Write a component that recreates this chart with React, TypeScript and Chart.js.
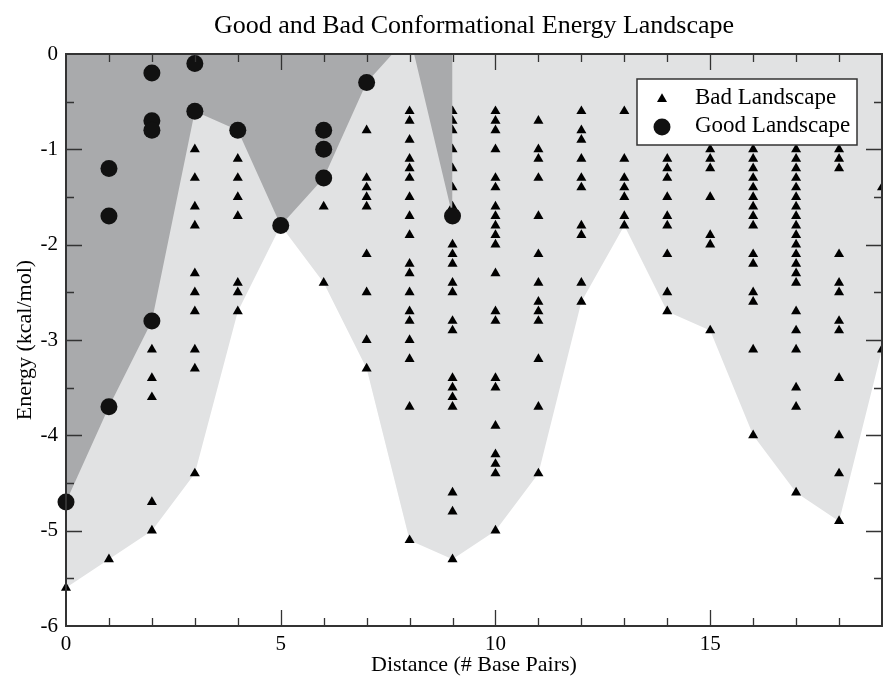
import React, { useEffect, useRef } from "react";
import { Chart, registerables } from "chart.js";

Chart.register(...registerables);

// ---- data ----
const distances = [0, 1, 2, 3, 4, 5, 6, 7, 8, 9, 10, 11, 12, 13, 14, 15, 16, 17, 18, 19];
const goodDistances = [0, 1, 2, 3, 4, 5, 6, 7, 8, 9];

// energies (kcal/mol) of the bad landscape, one list per distance
const badEnergies: number[][] = [
  [-4.7, -5.6],
  [-5.3],
  [-3.1, -3.4, -3.6, -4.7, -5.0],
  [-1.0, -1.3, -1.6, -1.8, -2.3, -2.5, -2.7, -3.1, -3.3, -4.4],
  [-1.1, -1.3, -1.5, -1.7, -2.4, -2.5, -2.7],
  [-1.8],
  [-1.6, -2.4],
  [-0.8, -1.3, -1.4, -1.5, -1.6, -2.1, -2.5, -3.0, -3.3],
  [-0.6, -0.7, -0.9, -1.1, -1.2, -1.3, -1.5, -1.7, -1.9, -2.2, -2.3, -2.5, -2.7, -2.8, -3.0, -3.2, -3.7, -5.1],
  [-0.6, -0.7, -0.8, -1.0, -1.2, -1.4, -1.6, -2.0, -2.1, -2.2, -2.4, -2.5, -2.8, -2.9, -3.4, -3.5, -3.6, -3.7, -4.6, -4.8, -5.3],
  [-0.6, -0.7, -0.8, -1.0, -1.3, -1.4, -1.6, -1.7, -1.8, -1.9, -2.0, -2.3, -2.7, -2.8, -3.4, -3.5, -3.9, -4.2, -4.3, -4.4, -5.0],
  [-0.7, -1.0, -1.1, -1.3, -1.7, -2.1, -2.4, -2.6, -2.7, -2.8, -3.2, -3.7, -4.4],
  [-0.6, -0.8, -0.9, -1.1, -1.3, -1.4, -1.8, -1.9, -2.4, -2.6],
  [-0.6, -1.1, -1.3, -1.4, -1.5, -1.7, -1.8],
  [-1.1, -1.2, -1.3, -1.5, -1.7, -1.8, -2.1, -2.5, -2.7],
  [-1.0, -1.1, -1.2, -1.5, -1.9, -2.0, -2.9],
  [-1.0, -1.1, -1.2, -1.3, -1.4, -1.5, -1.6, -1.7, -1.8, -2.1, -2.2, -2.5, -2.6, -3.1, -4.0],
  [-1.0, -1.1, -1.2, -1.3, -1.4, -1.5, -1.6, -1.7, -1.8, -1.9, -2.0, -2.1, -2.2, -2.3, -2.4, -2.7, -2.9, -3.1, -3.5, -3.7, -4.6],
  [-1.0, -1.1, -1.2, -2.1, -2.4, -2.5, -2.8, -2.9, -3.4, -4.0, -4.4, -4.9],
  [-1.4, -3.1],
];

// energies of the good landscape, one list per distance
const goodEnergies: number[][] = [
  [-4.7],
  [-1.2, -1.7, -3.7],
  [-0.2, -0.7, -0.8, -2.8],
  [-0.1, -0.6],
  [-0.8],
  [-1.8],
  [-0.8, -1.0, -1.3],
  [-0.3],
  [],
  [-1.7],
];

// lower envelopes of the two landscapes (regions extend up to the top of the plot)
const badLowerEnvelope = [-5.6, -5.3, -5.0, -4.4, -2.7, -1.8, -2.4, -3.3, -5.1, -5.3, -5.0, -4.4, -2.6, -1.8, -2.7, -2.9, -4.0, -4.6, -4.9, -3.1];
const goodLowerEnvelope = [-4.7, -3.7, -2.8, -0.6, -0.8, -1.8, -1.3, -0.3, 0.2, -1.7];

const xTickLabels = [0, 5, 10, 15];
const yTickLabels = [-6, -5, -4, -3, -2, -1, 0];

const chartTitle = "Good and Bad Conformational Energy Landscape";
const xTitle = "Distance (# Base Pairs)";
const yTitle = "Energy (kcal/mol)";
const badLabel = "Bad Landscape";
const goodLabel = "Good Landscape";

// ---- styles ----
const SERIF = "'Liberation Serif', 'Times New Roman', Times, serif";
const DARK = "#a9aaac";
const LIGHT = "#e1e2e3";
const FRAME = "#333333";

const framePlugin = {
  id: "frameTicks",
  afterDatasetsDraw(chart: any) {
    const { ctx, chartArea: a, scales } = chart;
    const x = scales.x;
    const y = scales.y;
    ctx.save();
    ctx.strokeStyle = FRAME;
    ctx.lineWidth = 1.3;
    ctx.beginPath();
    for (let v = x.min + 1; v < x.max; v += 1) {
      const px = Math.round(x.getPixelForValue(v)) + 0.5;
      const len = v % 5 === 0 ? 16 : 8;
      ctx.moveTo(px, a.bottom);
      ctx.lineTo(px, a.bottom - len);
      ctx.moveTo(px, a.top);
      ctx.lineTo(px, a.top + len);
    }
    for (let v = y.min + 0.5; v < y.max; v += 0.5) {
      const py = Math.round(y.getPixelForValue(v)) + 0.5;
      const len = Number.isInteger(v) ? 16 : 8;
      ctx.moveTo(a.left, py);
      ctx.lineTo(a.left + len, py);
      ctx.moveTo(a.right, py);
      ctx.lineTo(a.right - len, py);
    }
    ctx.stroke();
    ctx.lineWidth = 2;
    ctx.strokeRect(a.left, a.top, a.right - a.left, a.bottom - a.top);
    ctx.restore();
  },
};

const legendPlugin = {
  id: "boxLegend",
  afterDraw(chart: any) {
    const { ctx, chartArea: a } = chart;
    const bx = a.right - 245;
    const by = a.top + 25;
    const bw = 220;
    const bh = 66;
    ctx.save();
    ctx.fillStyle = "#ffffff";
    ctx.fillRect(bx, by, bw, bh);
    ctx.strokeStyle = FRAME;
    ctx.lineWidth = 1.5;
    ctx.strokeRect(bx, by, bw, bh);
    const ds = chart.data.datasets;
    const bad = ds.find((d: any) => d.label === badLabel);
    const good = ds.find((d: any) => d.label === goodLabel);
    const mx = bx + 25;
    // triangle
    const r = 5.8;
    const ty = by + 20;
    ctx.fillStyle = "#000";
    ctx.beginPath();
    ctx.moveTo(mx, ty - r);
    ctx.lineTo(mx + r * Math.sin((2 * Math.PI) / 3), ty + r / 2);
    ctx.lineTo(mx - r * Math.sin((2 * Math.PI) / 3), ty + r / 2);
    ctx.closePath();
    ctx.fill();
    // circle
    const cy = by + 48;
    ctx.fillStyle = "#111";
    ctx.beginPath();
    ctx.arc(mx, cy, 8.5, 0, Math.PI * 2);
    ctx.fill();
    ctx.fillStyle = "#000";
    ctx.font = `23px ${SERIF}`;
    ctx.textBaseline = "alphabetic";
    ctx.textAlign = "left";
    ctx.fillText(bad ? bad.label : badLabel, bx + 58, by + 25);
    ctx.fillText(good ? good.label : goodLabel, bx + 58, by + 53);
    ctx.restore();
  },
};

export default function App() {
  const ref = useRef<HTMLCanvasElement | null>(null);
  useEffect(() => {
    if (!ref.current) return;
    const badPoints = badEnergies.flatMap((ys, i) => ys.map((y) => ({ x: distances[i], y })));
    const goodPoints = goodEnergies.flatMap((ys, i) => ys.map((y) => ({ x: goodDistances[i], y })));
    const badEnv = distances.map((d, i) => ({ x: d, y: badLowerEnvelope[i] }));
    const goodEnv = goodDistances.map((d, i) => ({ x: d, y: goodLowerEnvelope[i] }));

    const chart = new Chart(ref.current, {
      type: "scatter",
      data: {
        datasets: [
          {
            label: goodLabel,
            data: goodPoints,
            pointStyle: "circle",
            pointRadius: 8.5,
            pointBorderWidth: 0,
            backgroundColor: "#111111",
            borderColor: "#111111",
            clip: false,
          } as any,
          {
            type: "line",
            label: "good envelope",
            data: goodEnv,
            pointRadius: 0,
            borderColor: "rgba(0,0,0,0)",
            backgroundColor: DARK,
            fill: { value: 0 },
            tension: 0,
          } as any,
          {
            label: badLabel,
            data: badPoints,
            pointStyle: "triangle",
            pointRadius: 5.8,
            pointBorderWidth: 0,
            backgroundColor: "#000000",
            borderColor: "#000000",
            clip: false,
          } as any,
          {
            type: "line",
            label: "bad envelope",
            data: badEnv,
            pointRadius: 0,
            borderColor: "rgba(0,0,0,0)",
            backgroundColor: LIGHT,
            fill: { value: 0 },
            tension: 0,
          } as any,
        ],
      },
      options: {
        animation: false,
        responsive: true,
        maintainAspectRatio: false,
        layout: { autoPadding: false, padding: { left: 0, right: 1, top: 0, bottom: 0 } },
        plugins: {
          legend: { display: false },
          tooltip: { enabled: false },
          title: {
            display: true,
            fullSize: false,
            text: chartTitle,
            color: "#000",
            font: { family: SERIF, size: 26, weight: "normal" },
            padding: { top: 11, bottom: 11.8 },
          },
        },
        scales: {
          x: {
            type: "linear",
            min: 0,
            max: 19,
            grid: { display: false, drawTicks: false },
            border: { display: false },
            afterBuildTicks: (s: any) => {
              s.ticks = xTickLabels.map((v) => ({ value: v }));
            },
            ticks: {
              color: "#000",
              font: { family: SERIF, size: 21 },
              padding: 6,
              maxRotation: 0,
              autoSkip: false,
            },
            title: {
              display: true,
              text: xTitle,
              color: "#000",
              font: { family: SERIF, size: 22 },
              padding: { top: 0, bottom: -1 },
            },
            afterFit: (s: any) => {
              s.height = 51;
              s.paddingLeft = 0;
              s.paddingRight = 0;
            },
          },
          y: {
            type: "linear",
            min: -6,
            max: 0,
            grid: { display: false, drawTicks: false },
            border: { display: false },
            afterBuildTicks: (s: any) => {
              s.ticks = yTickLabels.map((v) => ({ value: v }));
            },
            ticks: {
              color: "#000",
              font: { family: SERIF, size: 21 },
              padding: 8,
              autoSkip: false,
            },
            title: {
              display: true,
              text: yTitle,
              color: "#000",
              font: { family: SERIF, size: 22 },
              padding: { top: 12, bottom: 0 },
            },
            afterFit: (s: any) => {
              s.width = 66;
              s.paddingTop = 0;
              s.paddingBottom = 0;
            },
          },
        },
      } as any,
      plugins: [framePlugin, legendPlugin],
    });
    return () => chart.destroy();
  }, []);

  return (
    <div style={{ position: "fixed", left: 0, top: 0, width: 883, height: 677, background: "#fff" }}>
      <canvas ref={ref} />
    </div>
  );
}
